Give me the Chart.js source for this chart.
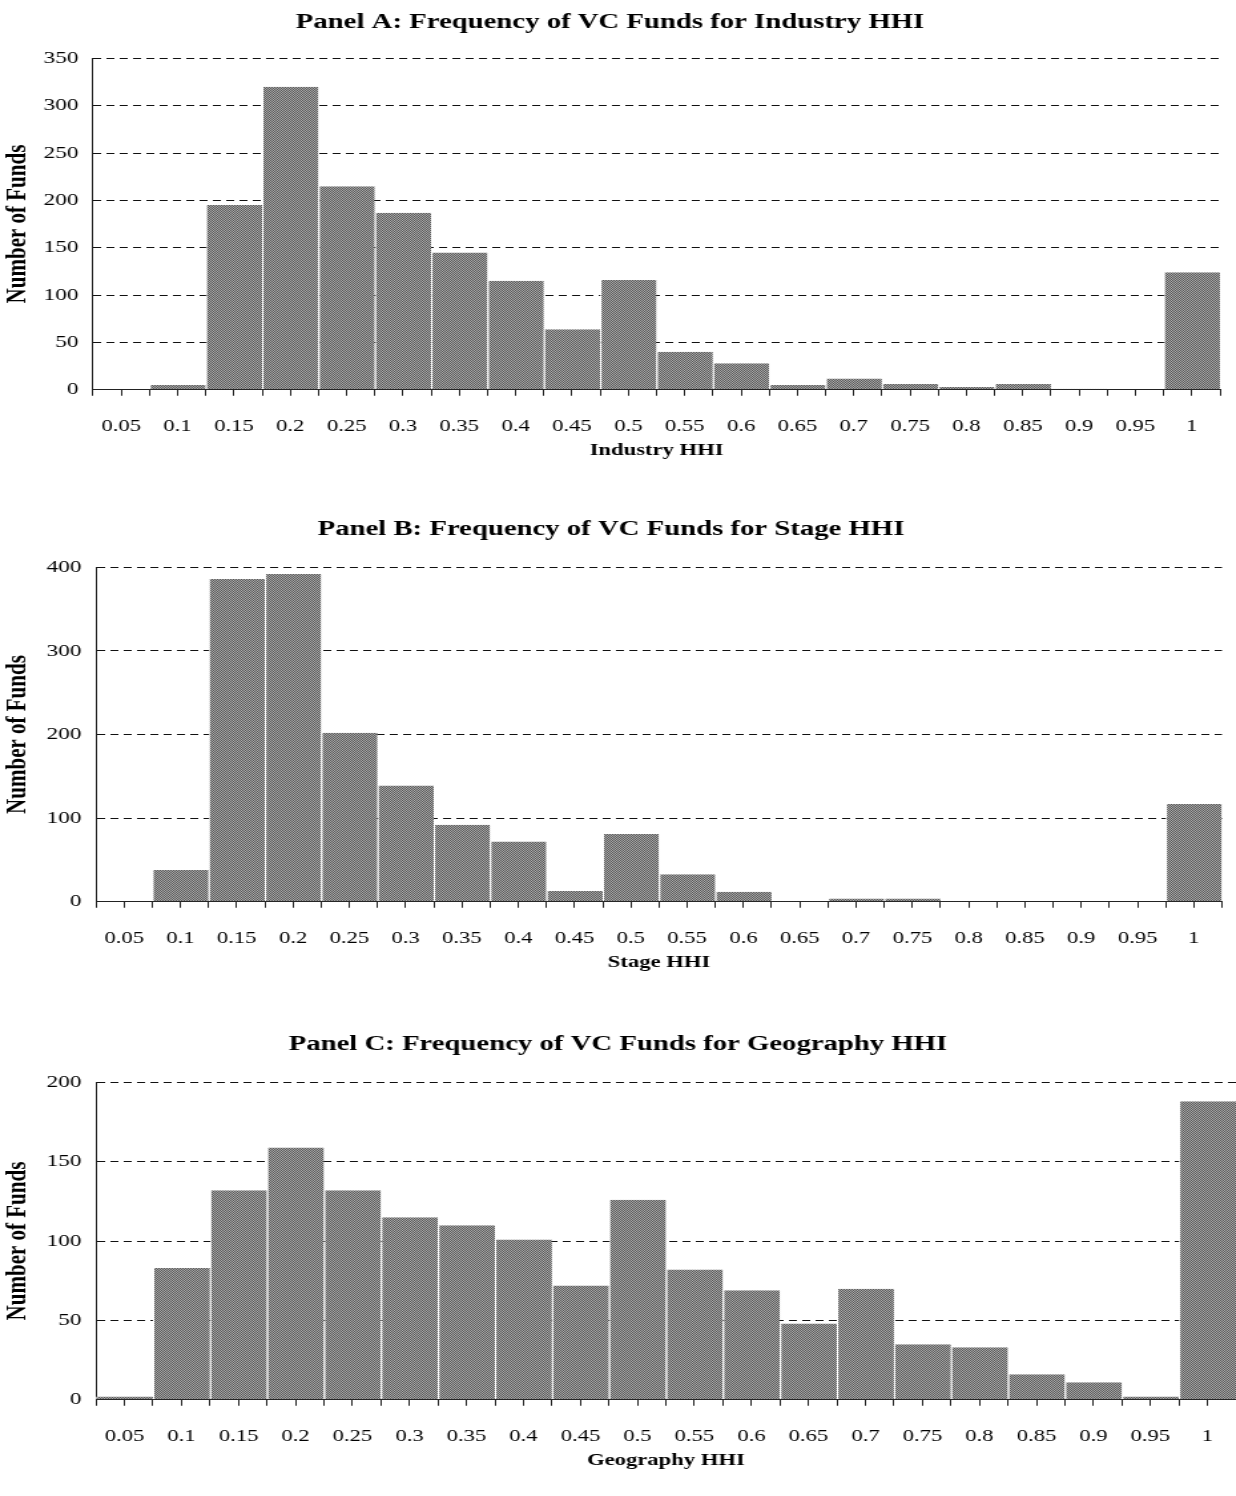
<!DOCTYPE html>
<html>
<head>
<meta charset="utf-8">
<script src="https://cdn.jsdelivr.net/npm/chart.js@4.4.1/dist/chart.umd.min.js"></script>
<style>
  body { margin: 0; background: #fff; width: 1236px; height: 1496px; position: relative; overflow: hidden; }
  /* the source figure is stretched sideways, so each panel is drawn narrow and scaled in x */
  .panel { position: absolute; left: 0; width: 929px; transform: scaleX(1.3304); transform-origin: 0 0; }
</style>
</head>
<body>
<div class="panel" style="top:0px;height:463px"><canvas id="panelA"></canvas></div>
<div class="panel" style="top:507px;height:468px"><canvas id="panelB"></canvas></div>
<div class="panel" style="top:1022px;height:451px"><canvas id="panelC"></canvas></div>
<script>
// HHI bins (x axis tick labels)
const hhiBins = ['0.05', '0.1', '0.15', '0.2', '0.25', '0.3', '0.35', '0.4', '0.45', '0.5',
                 '0.55', '0.6', '0.65', '0.7', '0.75', '0.8', '0.85', '0.9', '0.95', '1'];

// number of funds in each bin
const industryFunds  = [0, 5, 195, 320, 215, 187, 145, 115, 64, 116, 40, 28, 5, 12, 6, 3, 6, 1, 0, 124];
const stageFunds     = [0, 38, 386, 392, 202, 139, 92, 72, 13, 81, 33, 12, 1, 4, 4, 1, 0, 0, 0, 117];
const geographyFunds = [2, 83, 132, 159, 132, 115, 110, 101, 72, 126, 82, 69, 48, 70, 35, 33, 16, 11, 2, 188];

// y axis ranges
const industryTicks  = { max: 350, step: 50 };
const stageTicks     = { max: 400, step: 100 };
const geographyTicks = { max: 200, step: 50 };

const serif = "'Liberation Serif', 'Times New Roman', serif";

function checker(canvas) {
  const c = document.createElement('canvas');
  c.width = 2; c.height = 2;
  const g = c.getContext('2d');
  g.fillStyle = '#575757';
  g.fillRect(0, 0, 2, 2);
  g.fillStyle = '#ababab';
  g.fillRect(0, 0, 1, 1);
  g.fillRect(1, 1, 1, 1);
  return canvas.getContext('2d').createPattern(c, 'repeat');
}

function drawPanel(id, title, xTitle, values, yRange, padRight, yTitlePadBottom, titlePadBottom) {
  const el = document.getElementById(id);
  // bars sit at the middle of each bin, ticks at every half bin
  const points = hhiBins.map((b, i) => ({ x: i + 0.5, y: values[i] }));

  new Chart(el, {
    type: 'bar',
    data: {
      datasets: [{
        data: points,
        backgroundColor: checker(el),
        borderColor: '#ffffff',
        borderWidth: { left: 1, right: 0, top: 0, bottom: 0 },
        borderSkipped: false,
        categoryPercentage: 1,
        barPercentage: 2
      }]
    },
    options: {
      responsive: true,
      maintainAspectRatio: false,
      animation: false,
      layout: { padding: { left: 0, right: padRight, top: 0, bottom: 0 } },
      plugins: {
        legend: { display: false },
        tooltip: { enabled: false },
        title: {
          display: true,
          text: title,
          color: '#000',
          font: { family: serif, size: 21.6, weight: 'bold' },
          padding: { top: 9, bottom: titlePadBottom }
        }
      },
      scales: {
        x: {
          type: 'linear',
          min: 0,
          max: hhiBins.length,
          offset: false,
          border: { display: true, color: '#222', width: 1 },
          grid: { offset: false, drawOnChartArea: false, tickLength: 6, color: '#222' },
          ticks: {
            stepSize: 0.5,
            maxTicksLimit: hhiBins.length * 2 + 1,
            autoSkip: false,
            maxRotation: 0,
            minRotation: 0,
            padding: 0,
            color: '#000',
            // tall line box keeps the labels well below the axis
            font: { family: serif, size: 17, lineHeight: 3.65 },
            callback: (v) => {
              const k = Math.round(v * 2);
              return k % 2 === 1 ? hhiBins[(k - 1) / 2] : '';
            }
          },
          title: {
            display: true,
            text: xTitle,
            color: '#000',
            font: { family: serif, size: 17, weight: 'bold' },
            padding: { top: -17.2, bottom: 2 }
          }
        },
        y: {
          min: 0,
          max: yRange.max,
          border: { display: true, color: '#222', width: 1, dash: [6, 4] },
          grid: { drawTicks: true, tickLength: 11, tickColor: 'rgba(0,0,0,0)', color: '#111', lineWidth: 1 },
          ticks: {
            stepSize: yRange.step,
            padding: 0,
            color: '#000',
            font: { family: serif, size: 17.5 }
          },
          title: {
            display: true,
            text: 'Number of Funds',
            color: '#000',
            font: { family: serif, size: 21, weight: 'bold' },
            padding: { top: 1, bottom: yTitlePadBottom }
          }
        }
      }
    }
  });
}

drawPanel('panelA', 'Panel A: Frequency of VC Funds for Industry HHI', 'Industry HHI', industryFunds, industryTicks, 12, 6.5, 23.4);
drawPanel('panelB', 'Panel B: Frequency of VC Funds for Stage HHI', 'Stage HHI', stageFunds, stageTicks, 10.5, 8.7, 25.4);
drawPanel('panelC', 'Panel C: Frequency of VC Funds for Geography HHI', 'Geography HHI', geographyFunds, geographyTicks, 0, 8.7, 25.4);
</script>
</body>
</html>
